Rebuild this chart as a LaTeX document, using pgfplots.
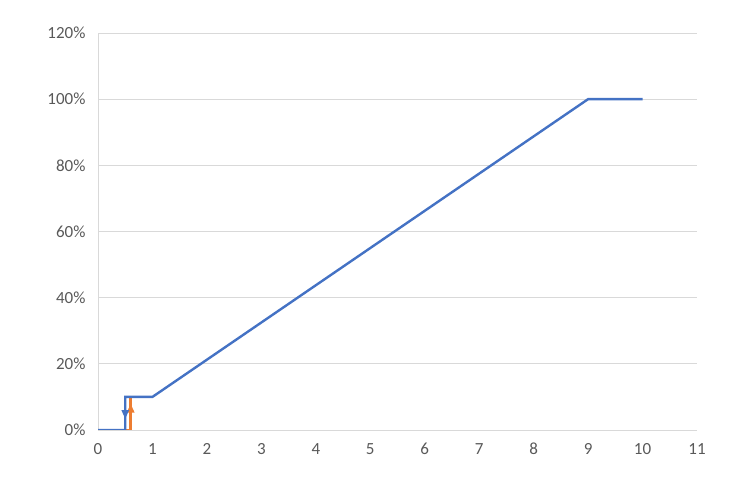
\documentclass[border=0pt]{standalone}
\usepackage{pgfplots}
\pgfplotsset{compat=1.18}
\usepackage{fontspec}
\setmainfont{Carlito}
\usetikzlibrary{decorations.markings,arrows.meta}
\definecolor{xlblue}{HTML}{4472C4}
\definecolor{xlorange}{HTML}{ED7D31}
\definecolor{xlgrid}{HTML}{D9D9D9}
\definecolor{xltext}{HTML}{595959}
\begin{document}
\begin{tikzpicture}
\useasboundingbox (-98pt,-72pt) rectangle (656pt,430pt);
\begin{axis}[
    scale only axis,
    width=599pt, height=397pt,
    xmin=0, xmax=11,
    ymin=0, ymax=1.2,
    xtick={0,1,...,11},
    ytick={0,0.2,...,1.2},
    yticklabel={\pgfmathparse{\tick*100}\pgfmathprintnumber[fixed,precision=0]{\pgfmathresult}\%},
    /pgf/number format/assume math mode=true,
    ymajorgrids=true,
    grid style={xlgrid, line width=0.8pt},
    axis line style={xlgrid, line width=0.8pt},
    axis x line*=bottom,
    axis y line*=left,
    major tick length=0pt,
    tick style={draw=none},
    ticklabel style={font=\fontsize{17}{20}\selectfont, text=xltext},
    xticklabel style={yshift=-10pt, text depth=0pt, text height=11pt},
    yticklabel style={xshift=-9pt},
]
\addplot[xlorange, line width=2.4pt, line join=miter,
    postaction={decorate},
    decoration={markings, mark=at position 0.8 with {\arrow{Triangle[length=9pt,width=7pt]}}}]
    coordinates {(0.6,0) (0.6,0.1)};
\addplot[xlorange, line width=2.4pt] coordinates {(0.5,0) (0.6,0)};
\addplot[xlblue, line width=2.4pt, line join=miter]
    coordinates {(10,1) (9,1) (1,0.1) (0.5,0.1) (0.5,0) (0,0)};
\addplot[xlblue, line width=2.4pt, draw=none,
    postaction={decorate},
    decoration={markings, mark=at position 0.67 with {\arrow{Triangle[length=9pt,width=7pt]}}}]
    coordinates {(0.5,0.1) (0.5,0)};
\end{axis}
\end{tikzpicture}
\end{document}
